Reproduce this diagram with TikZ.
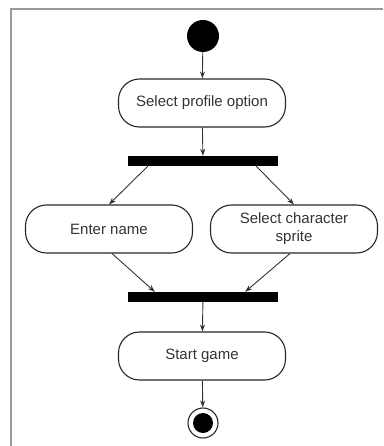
\documentclass[tikz,border=0pt]{standalone}
\usepackage{fontspec}
\setmainfont{Liberation Sans}
\usetikzlibrary{arrows.meta,calc}
\begin{document}
\begin{tikzpicture}[x=1pt,y=-1pt,
  act/.style={draw=black!85,line width=1.1pt,rounded corners=21pt,minimum width=167pt,minimum height=48pt,align=center,font=\fontsize{15}{18}\selectfont,text=black!80,inner sep=0pt},
  bar/.style={fill=black,minimum width=150pt,minimum height=10pt,inner sep=0pt},
  flow/.style={draw=black!80,line width=0.9pt,-{Stealth[length=7pt,width=5pt]}}]
\useasboundingbox (0,0) rectangle (383,446);
\draw[black!40,line width=2pt] (11,446) -- (11,9) -- (383,9);
\node[circle,fill=black,minimum size=32pt,inner sep=0pt] (start) at (203,36) {};
\node[act] (sel) at (202,103) {Select profile option};
\node[bar] (fork) at (203,161) {};
\node[act] (enter) at (109,229) {Enter name};
\node[act] (sprite) at (294,229) {Select character\\sprite};
\node[bar] (join) at (203,297) {};
\node[act] (game) at (202,356) {Start game};
\node[circle,draw=black!85,line width=1.1pt,minimum size=30pt,inner sep=0pt] (end) at (203,423) {};
\node[circle,fill=black,minimum size=20pt,inner sep=0pt] (endin) at (end.center) {};
\draw[flow] (start) -- (sel);
\draw[flow] (sel) -- (fork);
\draw[flow] ($(fork.south west)+(20,0)$) -- (enter.north);
\draw[flow] ($(fork.south east)+(-22,0)$) -- (sprite.north);
\draw[flow] ($(enter.south)+(3,0)$) -- ($(join.north west)+(27,0)$);
\draw[flow] ($(sprite.south)+(-4,0)$) -- ($(join.north east)+(-33,0)$);
\draw[flow] (join) -- (game);
\draw[flow] (game) -- (end);
\end{tikzpicture}
\end{document}
